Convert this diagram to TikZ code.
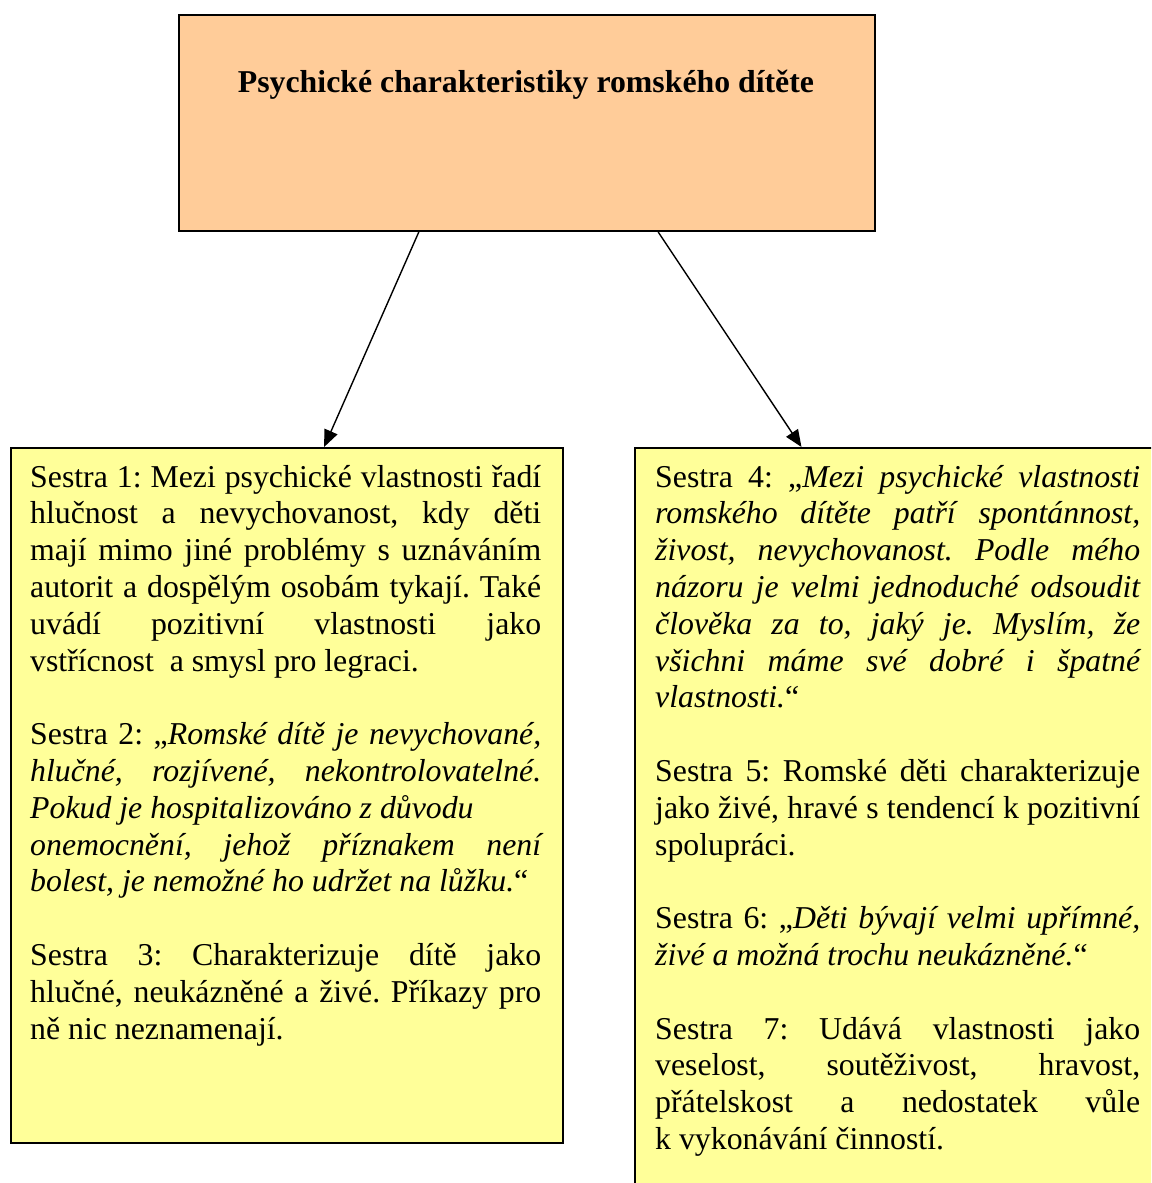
\documentclass[tikz,border=0pt]{standalone}
\usepackage{fontspec}
\setmainfont{Liberation Serif}
\usetikzlibrary{arrows.meta,calc}

\definecolor{peach}{RGB}{255,204,153}
\definecolor{paleyellow}{RGB}{255,255,153}

\newcommand{\bodyfont}{\fontsize{31.8}{36.8}\selectfont}

\tikzset{
  box/.style={draw=black, line width=2pt},
  bodytext/.style={anchor=base west, inner sep=0pt, align=justify,
    font=\bodyfont},
  link/.style={line width=1.4pt, -{Triangle[length=17pt,width=14pt]}},
}

\begin{document}
\begin{tikzpicture}[x=1pt,y=-1pt]
\clip (0,0) rectangle (1151,1183);
\fill[white] (0,0) rectangle (1151,1183);

% heading box
\node[box, fill=peach, minimum width=696pt, minimum height=216pt,
      anchor=north west, inner sep=0pt] (head) at (178,14) {};
\node[anchor=base, inner sep=0pt, font=\bfseries\fontsize{31.8}{36}\selectfont]
      (headtext) at (526,92) {Psychické charakteristiky romského dítěte};

% left box
\node[box, fill=paleyellow, minimum width=552pt, minimum height=695pt,
      anchor=north west, inner sep=0pt] (left) at (10,447) {};
% right box (runs past the page edge)
\node[box, fill=paleyellow, minimum width=560pt, minimum height=800pt,
      anchor=north west, inner sep=0pt] (right) at (634,447) {};

\node[bodytext, text width=511pt] (lefttext) at (30,487) {%
\frenchspacing
\hyphenpenalty=10000 \exhyphenpenalty=10000 \tolerance=10000
\parskip=36.8pt \parindent=0pt
Sestra 1: Mezi psychické vlastnosti řadí\linebreak
hlučnost a nevychovanost, kdy děti\linebreak
mají mimo jiné problémy s uznáváním\linebreak
autorit a dospělým osobám tykají. Také\linebreak
uvádí pozitivní vlastnosti jako\linebreak
vstřícnost\ \ a smysl pro legraci.\par
Sestra 2: „\textit{Romské dítě je nevychované,\linebreak
hlučné, rozjívené, nekontrolovatelné.\linebreak
Pokud je hospitalizováno z důvodu\newline
onemocnění, jehož příznakem není\linebreak
bolest, je nemožné ho udržet na lůžku.}“\par
Sestra 3: Charakterizuje dítě jako\linebreak
hlučné, neukázněné a živé. Příkazy pro\linebreak
ně nic neznamenají.\par};

\node[bodytext, text width=485pt] (righttext) at (655,487) {%
\frenchspacing
\hyphenpenalty=10000 \exhyphenpenalty=10000 \tolerance=10000
\parskip=36.8pt \parindent=0pt
Sestra 4: „\textit{Mezi psychické vlastnosti\linebreak
romského dítěte patří spontánnost,\linebreak
živost, nevychovanost. Podle mého\linebreak
názoru je velmi jednoduché odsoudit\linebreak
člověka za to, jaký je. Myslím, že\linebreak
všichni máme své dobré i špatné\linebreak
vlastnosti.}“\par
Sestra 5: Romské děti charakterizuje\linebreak
jako živé, hravé s tendencí k pozitivní\linebreak
spolupráci.\par
Sestra 6: „\textit{Děti bývají velmi upřímné,\linebreak
živé a možná trochu neukázněné.}“\par
Sestra 7: Udává vlastnosti jako\linebreak
veselost, soutěživost, hravost,\linebreak
přátelskost a nedostatek vůle\linebreak
k~vykonávání činností.\par};

% connectors
\draw[link] ($(head.south west)!0.345!(head.south east)$)
         -- ($(left.north west)!0.567!(left.north east)$);
\draw[link] ($(head.south west)!0.688!(head.south east)$)
         -- ($(right.north west)!0.298!(right.north east)$);
\end{tikzpicture}
\end{document}
